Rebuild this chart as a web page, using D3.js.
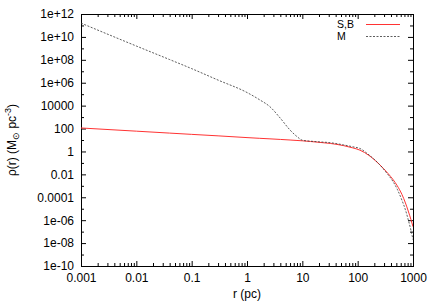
<!DOCTYPE html>
<html>
<head>
<meta charset="utf-8">
<script src="https://cdn.jsdelivr.net/npm/d3@7"></script>
<style>
  body { margin: 0; background: #fff; }
  text { font-family: "Liberation Sans", Arial, sans-serif; }
</style>
</head>
<body>
<div id="chart"></div>
<script>
// radius (pc)
var radius = [0.001, 0.01, 0.04, 0.1, 0.3, 1, 1.7, 2.6, 4, 6, 8, 10, 14, 20, 32, 56, 80, 110, 160, 250, 350, 440, 520, 630, 730, 820, 920, 1000];
// S,B density (Msun pc^-3)
var densitySB = [112, 59, 40, 31, 23, 16.2, 14, 12.6, 11.2, 10, 9.1, 8.5, 7.4, 6.3, 5.0, 3.2, 2.1, 1.3, 0.45, 0.07, 0.0126, 3.3e-3, 1e-3, 1.8e-4, 3.2e-5, 6.3e-6, 1.1e-6, 2.7e-7];
// M density
var densityM = [1.6e11, 1.6e9, 1.05e8, 1.7e7, 1.7e6, 1.4e5, 3.2e4, 8000, 800, 74, 20, 9.5, 7.9, 6.9, 5.8, 3.7, 2.6, 1.8, 0.5, 0.07, 0.01, 2.2e-3, 5e-4, 5.6e-5, 8e-6, 1.1e-6, 1.26e-7, 2e-8];

var xTicks = [0.001, 0.01, 0.1, 1, 10, 100, 1000];
var xTickLabels = ["0.001", "0.01", "0.1", "1", "10", "100", "1000"];
var yTicks = [1e12, 1e10, 1e8, 1e6, 1e4, 1e2, 1, 1e-2, 1e-4, 1e-6, 1e-8, 1e-10];
var yTickLabels = ["1e+12", "1e+10", "1e+08", "1e+06", "10000", "100", "1", "0.01", "0.0001", "1e-06", "1e-08", "1e-10"];

var seriesNames = ["S,B", "M"];
var sbColor = "#ff3333", mColor = "#333";

var margin = { top: 14, right: 23, bottom: 39, left: 81 },
    width = 436 - margin.left - margin.right,
    height = 305 - margin.top - margin.bottom;

var svg = d3.select("#chart").append("svg")
    .attr("width", 436)
    .attr("height", 305)
    .append("g")
    .attr("transform", "translate(" + margin.left + "," + margin.top + ")");

var x = d3.scaleLog()
    .domain([1e-3, 1e3])
    .range([0, width]);

var y = d3.scaleLog()
    .domain([1e-10, 1e12])
    .range([height, 0]);

// minor ticks
var xMinor = [];
xTicks.slice(0, -1).forEach(function(t) {
    for (var k = 2; k < 10; k++) xMinor.push(t * k);
});
var yMinor = [];
yTicks.slice(0, -1).forEach(function(t) { yMinor.push(t / 10); });

function styleAxis(g) {
    g.select(".domain").remove();
    g.selectAll("line").attr("stroke", "#000");
    g.selectAll("text")
        .style("font-size", "12px")
        .attr("fill", "#000");
}

// bottom / top
svg.append("g")
    .attr("transform", "translate(0," + height + ")")
    .call(d3.axisBottom(x).tickValues(xTicks).tickSize(-5).tickPadding(7)
        .tickFormat(function(d, i) { return xTickLabels[i]; }))
    .call(styleAxis);
svg.append("g")
    .attr("transform", "translate(0," + height + ")")
    .call(d3.axisBottom(x).tickValues(xMinor).tickSize(-3).tickFormat(""))
    .call(styleAxis);
svg.append("g")
    .call(d3.axisTop(x).tickValues(xTicks).tickSize(-5).tickFormat(""))
    .call(styleAxis);
svg.append("g")
    .call(d3.axisTop(x).tickValues(xMinor).tickSize(-3).tickFormat(""))
    .call(styleAxis);

// left / right
svg.append("g")
    .call(d3.axisLeft(y).tickValues(yTicks).tickSize(-5).tickPadding(7)
        .tickFormat(function(d, i) { return yTickLabels[i]; }))
    .call(styleAxis);
svg.append("g")
    .call(d3.axisLeft(y).tickValues(yMinor).tickSize(-3).tickFormat(""))
    .call(styleAxis);
svg.append("g")
    .attr("transform", "translate(" + width + ",0)")
    .call(d3.axisRight(y).tickValues(yTicks).tickSize(-5).tickFormat(""))
    .call(styleAxis);
svg.append("g")
    .attr("transform", "translate(" + width + ",0)")
    .call(d3.axisRight(y).tickValues(yMinor).tickSize(-3).tickFormat(""))
    .call(styleAxis);

svg.append("rect")
    .attr("x", 0.5)
    .attr("y", 0.5)
    .attr("width", width)
    .attr("height", height)
    .attr("fill", "none")
    .attr("stroke", "#000");

// lines
svg.append("clipPath").attr("id", "clip")
    .append("rect").attr("width", width).attr("height", height);

var line = d3.line()
    .x(function(d) { return x(d[0]); })
    .y(function(d) { return y(d[1]); })
    .curve(d3.curveMonotoneX);

svg.append("path")
    .datum(d3.zip(radius, densitySB))
    .attr("clip-path", "url(#clip)")
    .attr("d", line)
    .attr("fill", "none")
    .attr("stroke", sbColor)
    .attr("stroke-width", 1);

svg.append("path")
    .datum(d3.zip(radius, densityM))
    .attr("clip-path", "url(#clip)")
    .attr("d", line)
    .attr("fill", "none")
    .attr("stroke", mColor)
    .attr("stroke-width", 0.8)
    .attr("stroke-dasharray", "2,1.5");

// legend
var legend = svg.append("g").attr("transform", "translate(" + (337 - margin.left) + "," + (-margin.top) + ")");
legend.append("text").attr("x", 0).attr("y", 28)
    .style("font-size", "10.5px").text(seriesNames[0]);
legend.append("line").attr("x1", 29).attr("x2", 63)
    .attr("y1", 24.5).attr("y2", 24.5)
    .attr("stroke", sbColor);
legend.append("text").attr("x", 0).attr("y", 39.5)
    .style("font-size", "10.5px").text(seriesNames[1]);
legend.append("line").attr("x1", 29).attr("x2", 63)
    .attr("y1", 36.5).attr("y2", 36.5)
    .attr("stroke", mColor).attr("stroke-width", 0.8).attr("stroke-dasharray", "2,1.5");

// axis titles
svg.append("text")
    .attr("x", width / 2)
    .attr("y", 298 - margin.top)
    .attr("text-anchor", "middle")
    .style("font-size", "12px")
    .text("r (pc)");

var yt = svg.append("text")
    .attr("transform", "translate(" + (16 - margin.left) + "," + (height / 2) + ") rotate(-90)")
    .attr("text-anchor", "middle")
    .style("font-size", "12px");
yt.append("tspan").text("\u03c1(r) (M");
yt.append("tspan").attr("dy", 3).style("font-size", "9px").text("\u2299");
yt.append("tspan").attr("dy", -3).text(" pc");
yt.append("tspan").attr("dy", -5).style("font-size", "9px").text("-3");
yt.append("tspan").attr("dy", 5).text(")");
</script>
</body>
</html>
